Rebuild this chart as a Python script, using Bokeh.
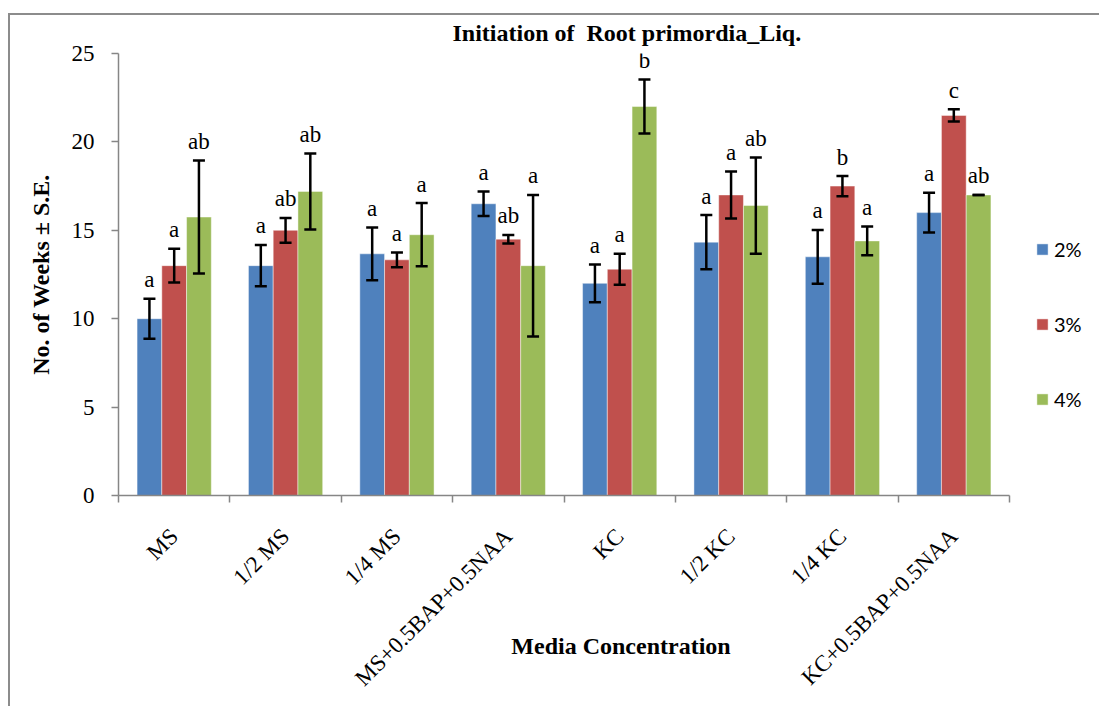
import math
from bokeh.plotting import figure
from bokeh.models import (ColumnDataSource, Range1d, FixedTicker, Whisker, TeeHead,
                          Legend, LegendItem, Title)
from bokeh.core.properties import value
from bokeh.embed import file_html
from bokeh.resources import INLINE

# ---- data ----
categories = ["MS", "1/2 MS", "1/4 MS", "MS+0.5BAP+0.5NAA",
              "KC", "1/2 KC", "1/4 KC", "KC+0.5BAP+0.5NAA"]
series_names = ["2%", "3%", "4%"]
mean_2 = [10.0, 13.0, 13.67, 16.5, 12.0, 14.33, 13.5, 16.0]
se_2 = [1.13, 1.17, 1.49, 0.69, 1.07, 1.53, 1.52, 1.13]
mean_3 = [13.0, 15.0, 13.33, 14.5, 12.8, 17.0, 17.5, 21.5]
se_3 = [0.95, 0.70, 0.42, 0.24, 0.88, 1.33, 0.57, 0.35]
mean_4 = [15.75, 17.2, 14.75, 13.0, 22.0, 16.4, 14.4, 17.0]
se_4 = [3.2, 2.15, 1.79, 4.0, 1.53, 2.72, 0.81, 0.0]
letters_2 = ["a", "a", "a", "a", "a", "a", "a", "a"]
letters_3 = ["a", "ab", "a", "ab", "a", "a", "b", "c"]
letters_4 = ["ab", "ab", "a", "a", "b", "ab", "a", "ab"]
y_ticks = [0, 5, 10, 15, 20, 25]

colors = ["#4F81BD", "#C0504D", "#9BBB59"]
means = [mean_2, mean_3, mean_4]
ses = [se_2, se_3, se_4]
letters = [letters_2, letters_3, letters_4]

SERIF = "Liberation Serif"
BAR_W = 1 / 4.5
W, H = 1099, 706
LEFT, TOP, BOTTOM_Y = 118, 53, 495
CAT_PX = 111.375
n = len(categories)

p = figure(width=W, height=H, output_backend="svg", toolbar_location=None,
           x_range=Range1d(0, (W - LEFT) / CAT_PX), y_range=Range1d(0, 25),
           min_border_left=LEFT, min_border_right=0, min_border_top=TOP,
           min_border_bottom=H - BOTTOM_Y)
p.outline_line_color = None
p.xgrid.visible = False
p.ygrid.visible = False
p.background_fill_color = "white"
p.border_fill_alpha = 0
p.styles = {
    "background-color": "white",
    "background-image": "linear-gradient(#8c8c8c,#8c8c8c), linear-gradient(#8c8c8c,#8c8c8c)",
    "background-position": "8px 13px, 8px 13px",
    "background-size": "2px 100%, 100% 2px",
    "background-repeat": "no-repeat",
}

renderers = []
for k in range(3):
    xs = [i + 0.5 + (k - 1) * BAR_W for i in range(n)]
    src = ColumnDataSource(dict(
        x=xs, top=means[k],
        upper=[m + s for m, s in zip(means[k], ses[k])],
        lower=[m - s for m, s in zip(means[k], ses[k])],
        lab=letters[k]))
    r = p.vbar(x="x", top="top", width=BAR_W, source=src, fill_color=colors[k],
               line_color="white", line_alpha=0.45, line_width=1)
    renderers.append(r)
    w = Whisker(source=src, base="x", upper="upper", lower="lower",
                level="overlay",
                line_color="black", line_width=2.5,
                upper_head=TeeHead(size=12, line_color="black", line_width=2.5),
                lower_head=TeeHead(size=12, line_color="black", line_width=2.5))
    p.add_layout(w)
    p.text(x="x", y="upper", text="lab", source=src,
           text_font=value(SERIF), text_font_size=value("23px"), text_color="black",
           text_align="center", text_baseline="alphabetic", y_offset=-19)

# x axis: labels at category centres, tick marks at category boundaries
xa = p.xaxis[0]
xa.bounds = (0, n)
xa.ticker = FixedTicker(ticks=[i + 0.5 for i in range(n)],
                        minor_ticks=list(range(n + 1)))
xa.major_label_overrides = {i + 0.5: c for i, c in enumerate(categories)}
xa.major_label_orientation = math.pi / 4
xa.major_tick_out = 0
xa.major_tick_in = 0
xa.minor_tick_out = 7
xa.minor_tick_in = 0
xa.minor_tick_line_color = "#868686"
xa.minor_tick_line_width = 1.5
xa.axis_line_color = "#868686"
xa.axis_line_width = 1.5
xa.major_label_text_font = SERIF
xa.major_label_text_font_size = "23px"
xa.major_label_text_color = "black"
xa.major_label_standoff = 30
xa.axis_label = "\u00a0\u00a0\u00a0\u00a0Media Concentration"
xa.axis_label_text_font = SERIF
xa.axis_label_text_font_size = "24px"
xa.axis_label_text_font_style = "bold"
xa.axis_label_text_color = "black"
xa.axis_label_standoff = -70

ya = p.yaxis[0]
ya.ticker = FixedTicker(ticks=y_ticks)
ya.major_tick_out = 7
ya.major_tick_in = 0
ya.minor_tick_out = 0
ya.minor_tick_in = 0
ya.major_tick_line_color = "#868686"
ya.major_tick_line_width = 1.5
ya.axis_line_color = "#868686"
ya.axis_line_width = 1.5
ya.major_label_text_font = SERIF
ya.major_label_text_font_size = "23px"
ya.major_label_text_color = "black"
ya.major_label_standoff = 17
ya.axis_label = "No. of Weeks \u00b1 S.E."
ya.axis_label_text_font = SERIF
ya.axis_label_text_font_size = "24px"
ya.axis_label_text_font_style = "bold"
ya.axis_label_text_color = "black"
ya.axis_label_standoff = 15

p.add_layout(Title(text="Initiation of \u00a0Root primordia_Liq.", text_font=SERIF,
                   text_font_size="24px", text_font_style="bold",
                   text_color="black", align="left", offset=334, standoff=15),
             "above")

legend = Legend(items=[LegendItem(label=s, renderers=[r])
                       for s, r in zip(series_names, renderers)],
                location=(917, 84), orientation="vertical",
                glyph_width=14, glyph_height=14, label_height=20,
                label_standoff=5, spacing=51, padding=0, margin=0,
                border_line_color=None, background_fill_alpha=0,
                label_text_font="Lato", label_text_font_size="20px",
                label_text_color="black")
p.add_layout(legend, "center")

open("out.html", "w").write(file_html(p, INLINE))
